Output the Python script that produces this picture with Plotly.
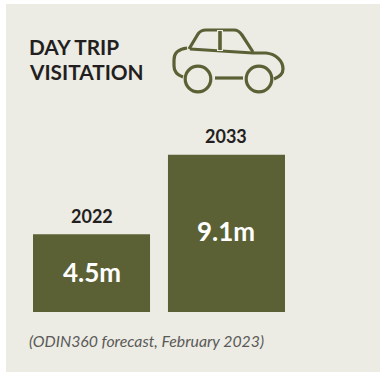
import plotly.graph_objects as go

W, H = 380, 372

years = ["2022", "2033"]
visits = [4.5, 9.1]
value_labels = ["4.5m", "9.1m"]

OLIVE = "#5b6135"
PANEL = "#ecebe4"
INK = "#231f20"


def px(x):
    return x / W


def py(y):
    return 1 - y / H


def path(cmds):
    """Build an SVG path in paper coordinates from (command, x, y, ...) tuples in pixels."""
    out = []
    for c in cmds:
        pts = c[1:]
        coords = []
        for i in range(0, len(pts), 2):
            coords.append(f"{px(pts[i]):.5f},{py(pts[i + 1]):.5f}")
        out.append(c[0] + " ".join(coords))
    return " ".join(out)


def line_shape(cmds, width=3.2, color=OLIVE):
    return dict(type="path", xref="paper", yref="paper", path=path(cmds),
                line=dict(color=color, width=width), layer="above")


def wheel(cx, cy, r):
    return dict(type="circle", xref="paper", yref="paper",
                x0=px(cx - r), x1=px(cx + r), y0=py(cy + r), y1=py(cy - r),
                line=dict(color=OLIVE, width=3.2), layer="above")


# Car pictogram
car = [
    line_shape([("M", 183, 77), ("C", 177, 75, 174, 71, 174, 66), ("L", 174, 60),
                ("C", 174, 53, 178, 49, 187, 48)]),
    line_shape([("M", 189, 49), ("L", 198, 34), ("C", 200, 31, 203, 30, 206, 30),
                ("L", 234, 30), ("C", 238, 30, 240, 32, 242, 35), ("L", 253, 52)]),
    line_shape([("M", 190, 49), ("L", 253, 53), ("L", 266, 53),
                ("C", 276, 54, 283, 61, 283, 69), ("C", 283, 74, 279, 77, 274, 79)]),
    line_shape([("M", 220, 30), ("L", 220, 51)], width=6, color=PANEL),
    line_shape([("M", 220, 31), ("L", 220, 50)], width=3.6),
    line_shape([("M", 215, 78), ("L", 243, 78)]),
    wheel(198, 79, 12.8),
    wheel(259, 79, 12.8),
]

fig = go.Figure()
fig.add_bar(
    x=years,
    y=visits,
    marker=dict(color=OLIVE, line=dict(width=0)),
    width=0.867,
    hoverinfo="skip",
)

# Value inside each bar and year caption above it
for i, (year, v, label) in enumerate(zip(years, visits, value_labels)):
    fig.add_annotation(x=i, y=v / 2, text=f"<b>{label}</b>", showarrow=False, yanchor="middle",
                       yshift=2.5 if i else 1, font=dict(family="Lato", size=26, color="white"))
    fig.add_annotation(x=i, y=v, text=f"<b>{year}</b>", showarrow=False, yanchor="middle",
                       yshift=18.5, font=dict(family="Lato", size=18, color=INK))

for label, y in (("DAY TRIP", 46), ("VISITATION", 71)):
    fig.add_annotation(xref="paper", yref="paper", x=px(26.5), y=py(y), xanchor="left", yanchor="middle",
                       text=f"<b>{label}</b>", showarrow=False, font=dict(family="Lato", size=20.8, color=INK))
fig.add_annotation(xref="paper", yref="paper", x=px(27), y=py(340), xanchor="left", yanchor="middle",
                   text="<i>(ODIN360 forecast, February 2023)</i>", showarrow=False,
                   font=dict(family="Lato", size=15.8, color="#5a5a58"))

panel = dict(type="rect", xref="paper", yref="paper", x0=px(6), x1=1, y0=0, y1=py(4),
             fillcolor=PANEL, line=dict(width=0), layer="below")

fig.update_layout(
    width=W,
    height=H,
    margin=dict(l=0, r=0, t=0, b=0),
    paper_bgcolor="white",
    plot_bgcolor="rgba(0,0,0,0)",
    showlegend=False,
    xaxis=dict(visible=False, type="category", domain=[px(33), px(285)], range=[-0.4335, 1.4335]),
    yaxis=dict(visible=False, domain=[py(312), py(154.6)], range=[0, 9.1]),
    shapes=[panel] + car,
)

fig.write_html("out.html", config=dict(displayModeBar=False))
